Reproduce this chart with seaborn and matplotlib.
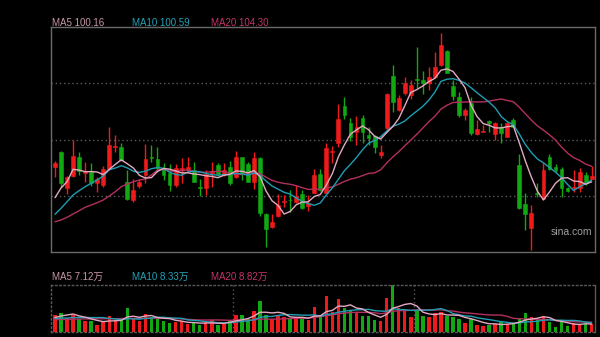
import matplotlib
matplotlib.use("Agg")
import matplotlib.pyplot as plt
import numpy as np
import pandas as pd
import seaborn as sns

# ---------------- data ----------------
opens = [104.18, 108.23, 98.35, 101.67, 106.72, 102.56, 102.83, 99.86, 99.24, 103.48,
         109.50, 109.50, 99.97, 95.19, 98.97, 101.94, 106.80, 106.18, 103.75, 102.40,
         99.24, 103.29, 103.29, 103.29, 98.62, 98.35, 102.56, 104.64, 102.21, 104.18,
         101.32, 106.72, 104.91, 100.13, 106.45, 91.33, 87.98, 90.95, 94.57, 95.27,
         94.73, 96.73, 93.65, 97.16, 102.21, 97.16, 108.15, 110.66, 120.57, 116.06,
         113.63, 117.25, 112.74, 112.47, 107.34, 114.55, 128.75, 119.49, 124.16, 123.54,
         127.94, 127.59, 126.70, 128.48, 131.64, 135.50, 125.97, 123.08, 118.14, 121.38,
         112.93, 113.55, 116.52, 113.01, 114.98, 112.28, 116.79, 104.64, 94.11, 87.55,
         97.08, 95.38, 106.72, 104.18, 103.48, 98.35, 98.35, 98.43, 101.94, 100.86]
highs = [105.72, 108.42, 101.67, 111.39, 108.23, 105.53, 105.26, 101.48, 104.37, 114.98,
         112.74, 110.66, 103.29, 100.78, 100.78, 110.31, 109.96, 109.42, 105.18, 104.91,
         104.91, 106.45, 106.72, 105.53, 100.78, 103.29, 105.37, 105.10, 105.26, 105.72,
         108.50, 106.80, 105.53, 108.23, 106.80, 91.68, 91.33, 96.81, 96.54, 97.89,
         99.24, 97.89, 96.54, 103.56, 103.56, 110.50, 109.77, 121.11, 122.92, 117.25,
         117.87, 118.14, 114.98, 112.74, 110.04, 124.00, 131.64, 123.54, 128.48, 127.59,
         136.58, 130.10, 131.02, 135.23, 140.20, 135.69, 127.59, 124.27, 119.95, 123.08,
         116.79, 115.44, 116.79, 116.33, 115.90, 116.33, 117.25, 107.61, 97.00, 93.84,
         99.70, 105.10, 107.61, 104.91, 104.18, 98.78, 103.29, 103.75, 102.75, 104.37]
lows = [101.40, 98.70, 96.81, 101.40, 101.94, 100.05, 98.97, 97.43, 98.62, 103.29,
        108.23, 105.72, 95.19, 94.73, 98.35, 99.78, 105.53, 102.83, 100.59, 97.70,
        98.78, 99.78, 102.75, 100.05, 96.27, 96.54, 98.78, 101.67, 101.67, 99.24,
        101.13, 100.59, 100.05, 98.08, 90.95, 82.58, 87.55, 90.68, 93.22, 92.03,
        94.38, 92.76, 92.30, 97.08, 97.62, 97.08, 105.10, 109.58, 116.98, 111.12,
        110.04, 110.58, 110.04, 107.88, 106.45, 114.09, 118.95, 119.22, 123.54, 122.46,
        125.43, 123.81, 124.89, 128.13, 131.37, 129.48, 122.19, 117.52, 116.79, 112.74,
        112.74, 113.42, 113.63, 111.39, 110.66, 112.20, 114.90, 92.76, 87.09, 81.69,
        95.92, 95.19, 103.29, 102.75, 96.08, 97.35, 97.43, 97.35, 99.24, 100.73]
closes = [105.26, 99.70, 101.32, 107.07, 103.02, 103.02, 99.86, 100.78, 103.56, 110.04,
          109.85, 105.99, 95.38, 97.89, 100.13, 106.18, 106.61, 103.75, 101.81, 99.24,
          103.83, 103.91, 103.97, 100.13, 98.43, 102.21, 103.10, 102.21, 103.29, 99.86,
          106.72, 102.56, 100.13, 106.45, 91.60, 87.36, 89.33, 93.84, 94.84, 95.11,
          96.35, 92.95, 94.30, 101.94, 97.89, 109.15, 108.34, 116.98, 118.14, 112.20,
          114.98, 113.63, 111.85, 109.42, 108.23, 123.73, 121.73, 122.65, 126.70, 126.24,
          127.67, 126.70, 128.48, 131.18, 137.04, 129.56, 123.27, 118.14, 119.49, 113.36,
          114.28, 113.82, 115.90, 115.90, 113.36, 115.90, 114.98, 92.95, 91.41, 91.60,
          96.89, 103.29, 103.48, 103.29, 98.43, 97.62, 98.78, 102.75, 99.70, 101.67]
# volume in 万 (10k shares)
volumes = [15.0, 17.4, 12.9, 15.0, 12.0, 9.6, 9.6, 6.0, 9.6, 14.7,
           10.5, 11.4, 21.6, 12.9, 9.6, 16.5, 13.5, 12.6, 9.6, 8.1,
           9.0, 9.6, 7.5, 8.1, 6.0, 9.0, 10.5, 6.0, 7.5, 10.5,
           15.6, 15.0, 12.0, 18.6, 27.6, 15.6, 12.0, 15.0, 13.5, 12.0,
           13.5, 12.0, 11.1, 22.5, 13.5, 32.4, 18.0, 30.0, 21.6, 20.1,
           18.0, 14.1, 14.1, 10.5, 9.6, 30.9, 42.0, 21.6, 20.1, 13.5,
           20.1, 14.1, 13.5, 17.1, 18.0, 14.1, 13.5, 12.0, 8.1, 12.0,
           6.0, 5.1, 6.0, 7.5, 9.0, 7.5, 7.5, 12.6, 17.4, 13.5,
           11.1, 14.1, 9.0, 4.5, 9.0, 5.1, 8.1, 7.5, 7.5, 7.5]

# moving-average values before a full window is visible
ma5_head = [95.81, 98.43, 100.13, 103.48]
ma10_head = [91.33, 92.95, 94.73, 96.54, 97.70, 98.78, 99.70, 100.59, 101.67]
ma20_head = [89.33, 89.79, 90.52, 91.41, 92.30, 93.22, 93.84, 94.46, 95.19, 96.27,
             97.43, 98.78, 99.51, 100.13, 100.59, 100.86, 101.94, 103.29, 103.48]
vma5_head = [13.0, 14.4, 15.3, 16.2]
vma10_head = [12.2, 12.6, 12.6, 13.0, 13.0, 13.0, 13.0, 13.0, 13.0]
vma20_head = [11.1, 11.2, 11.3, 11.5, 11.7, 11.7, 11.8, 11.9, 11.9, 12.0,
              12.0, 12.1, 12.2, 12.2, 12.3, 12.4, 12.4, 12.4, 12.4]

price_labels = ["MA5 100.16", "MA10 100.59", "MA20 104.30"]
volume_labels = ["MA5 7.12万", "MA10 8.33万", "MA20 8.82万"]
month_starts = [30, 60]
watermark = "sina.com"

# ---------------- styling ----------------
sns.set_theme(style="dark", rc={"axes.facecolor": "black", "figure.facecolor": "black"})
plt.rcParams["font.family"] = ["Liberation Sans", "Noto Sans CJK SC", "DejaVu Sans"]

UP = "#f01a1a"
DOWN = "#12a812"
C_MA5 = "#e3aac2"
C_MA10 = "#1f9db3"
C_MA20 = "#b3305f"
T_MA5 = "#c897a8"
T_MA10 = "#23a3b8"
T_MA20 = "#c2346a"

df = pd.DataFrame({"o": opens, "h": highs, "l": lows, "c": closes, "v": volumes})
df["i"] = np.arange(len(df))
df["up"] = df["c"] >= df["o"]
colors = np.where(df["up"], UP, DOWN)


def moving(series, n, head):
    m = series.rolling(n).mean()
    m.iloc[: n - 1] = head
    return m


df["ma5"] = moving(df["c"], 5, ma5_head)
df["ma10"] = moving(df["c"], 10, ma10_head)
df["ma20"] = moving(df["c"], 20, ma20_head)
df["vma5"] = moving(df["v"], 5, vma5_head)
df["vma10"] = moving(df["v"], 10, vma10_head)
df["vma20"] = moving(df["v"], 20, vma20_head)

W, H = 600, 337
fig = plt.figure(figsize=(W / 100, H / 100), dpi=100, facecolor="black")
ax = fig.add_axes([51 / W, 1 - 252 / H, 544 / W, 225 / H])
axv = fig.add_axes([51 / W, 1 - 332 / H, 544 / W, 47 / H])

xlim = (-0.66, 89.55)

# ---- main price panel ----
ax.set_facecolor("black")
ax.vlines(df["i"], df["l"], df["h"], colors=colors, linewidth=1.0, zorder=2)
body_bottom = np.minimum(df["o"], df["c"])
body_h = np.abs(df["c"] - df["o"])
ax.bar(df["i"], body_h, bottom=body_bottom, width=0.64, color=colors,
       edgecolor=colors, linewidth=0.4, zorder=3)
for col, c in (("ma20", C_MA20), ("ma10", C_MA10), ("ma5", C_MA5)):
    sns.lineplot(x=df["i"], y=df[col], ax=ax, color=c, linewidth=1.0,
                 legend=False, zorder=4)
ylo, yhi = 81.15, 141.9
ax.set_xlim(*xlim)
ax.set_ylim(ylo, yhi)
ax.set_yticks([ylo + (yhi - ylo) * k / 4 for k in (1, 2, 3)])
ax.set_xticks([])
ax.tick_params(left=False, bottom=False, labelleft=False, labelbottom=False)
ax.grid(False)
for yv in ax.get_yticks():
    ax.axhline(yv, color="#5a5a5a", linewidth=1.0, linestyle=(0, (1, 2)), zorder=1)
ax.set_xlabel("")
ax.set_ylabel("")
for s in ax.spines.values():
    s.set_visible(True)
    s.set_color("#6a6a6a")
    s.set_linewidth(1.0)
ax.text(0.995, 0.075, watermark, transform=ax.transAxes, ha="right", va="baseline",
        fontsize=7.5, color="#a0a0a0", zorder=5)

# ---- volume panel ----
axv.set_facecolor("black")
axv.bar(df["i"], df["v"], width=0.58, color=colors, linewidth=0, zorder=2)
for col, c in (("vma20", C_MA20), ("vma10", C_MA10), ("vma5", C_MA5)):
    sns.lineplot(x=df["i"], y=df[col], ax=axv, color=c, linewidth=1.0,
                 legend=False, zorder=4)
for m in month_starts:
    axv.axvline(m - 0.5, color="#5a5a5a", linewidth=1.0, linestyle=(0, (1, 2)), zorder=1)
axv.set_xlim(*xlim)
axv.set_ylim(0, 42.3)
axv.set_xticks([])
axv.set_yticks([])
axv.grid(False)
axv.set_xlabel("")
axv.set_ylabel("")
for name, s in axv.spines.items():
    s.set_visible(True)
    s.set_color("#5a5a5a")
    s.set_linewidth(1.0)
    if name != "right":
        s.set_linestyle((0, (1, 2)))

# ---- labels ----
label_x = [52 / W, 132 / W, 211 / W]
for txt, x, c in zip(price_labels, label_x, (T_MA5, T_MA10, T_MA20)):
    fig.text(x, 1 - 25.5 / H, txt, fontsize=7, color=c, ha="left", va="baseline")
for txt, x, c in zip(volume_labels, label_x, (T_MA5, T_MA10, T_MA20)):
    fig.text(x, 1 - 279.5 / H, txt, fontsize=7, color=c, ha="left", va="baseline")

fig.savefig("out.png", dpi=100, facecolor="black")
